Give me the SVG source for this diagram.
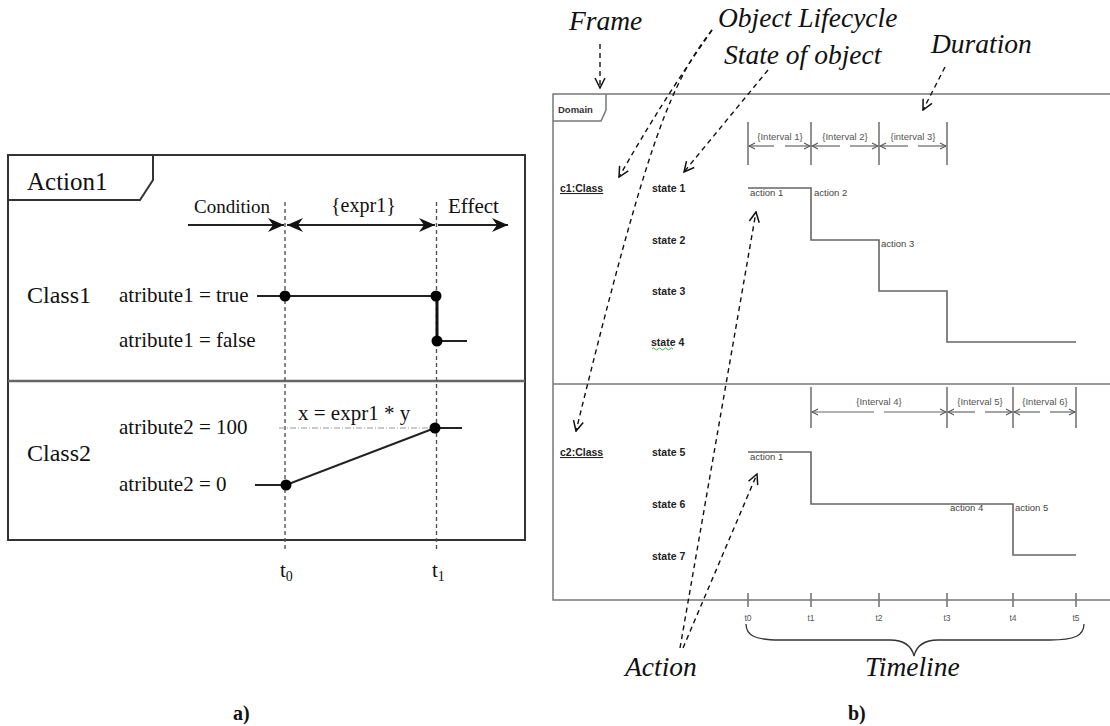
<svg xmlns="http://www.w3.org/2000/svg" width="1110" height="726" viewBox="0 0 1110 726">
  <style>
    .serif { font-family: "Liberation Serif", "Times New Roman", serif; fill: #111; }
    .lbl { font-family: "Liberation Serif", "Times New Roman", serif; fill: #111; font-style: italic; font-size: 27.5px; }
    .sans { font-family: "Liberation Sans", Arial, sans-serif; }
    .state { font-family: "Liberation Sans", Arial, sans-serif; font-size: 10.5px; font-weight: bold; fill: #222; }
    .act { font-family: "Liberation Sans", Arial, sans-serif; font-size: 9.5px; fill: #444; }
    .ivl { font-family: "Liberation Sans", Arial, sans-serif; font-size: 9.5px; fill: #555; text-anchor: middle; }
    .tick { font-family: "Liberation Sans", Arial, sans-serif; font-size: 8.5px; fill: #555; text-anchor: middle; }
    .frameA { fill: none; stroke: #333; stroke-width: 2; }
    .vdash { fill: none; stroke: #555; stroke-width: 1.4; stroke-dasharray: 4 3; }
    .sig { fill: none; stroke: #222; stroke-width: 2; }
    .dot { fill: #000; }
    .frameB { fill: none; stroke: #777; stroke-width: 1.5; }
    .step { fill: none; stroke: #666; stroke-width: 1.6; }
    .bar { fill: none; stroke: #777; stroke-width: 1.6; }
    .ivline { fill: none; stroke: #666; stroke-width: 1.2; }
    .note { fill: none; stroke: #111; stroke-width: 1.4; stroke-dasharray: 5 4; }
  </style>
  <defs>
    <marker id="stealth" viewBox="0 0 16 16" refX="16" refY="8" markerWidth="16" markerHeight="16" markerUnits="userSpaceOnUse" orient="auto-start-reverse">
      <path d="M0,1 L16,8 L0,15 L5,8 z" fill="#111"/>
    </marker>
    <marker id="chev" viewBox="0 0 8 8" refX="7" refY="4" markerWidth="8" markerHeight="8" markerUnits="userSpaceOnUse" orient="auto-start-reverse">
      <path d="M1,1 L7,4 L1,7" fill="none" stroke="#555" stroke-width="1.1"/>
    </marker>
    <marker id="openV" viewBox="0 0 12 12" refX="11" refY="6" markerWidth="12" markerHeight="12" markerUnits="userSpaceOnUse" orient="auto">
      <path d="M1,1 L11,6 L1,11" fill="none" stroke="#111" stroke-width="1.5"/>
    </marker>
  </defs>

  <rect width="1110" height="726" fill="#fff"/>

  <!-- ===== a) timing diagram with value lifelines ===== -->
  <g id="frame-action1">
    <rect class="frameA" x="8" y="155" width="517" height="385"/>
    <path class="frameA" d="M8 200 H140 L153 180 V155"/>
    <text class="serif" x="27" y="190" font-size="25">Action1</text>
    <line x1="8" y1="381" x2="525" y2="381" stroke="#666" stroke-width="2.5"/>
  </g>

  <g id="time-marks-a">
    <line class="vdash" x1="285" y1="202" x2="285" y2="551"/>
    <line class="vdash" x1="436.5" y1="202" x2="436.5" y2="551"/>
    <text class="serif" x="280" y="577" font-size="21">t<tspan font-size="14" dy="4">0</tspan></text>
    <text class="serif" x="432" y="577" font-size="21">t<tspan font-size="14" dy="4">1</tspan></text>
  </g>

  <g id="phases-a">
    <text class="serif" x="194" y="213" font-size="19">Condition</text>
    <text class="serif" x="331" y="212" font-size="20">{expr1}</text>
    <text class="serif" x="448" y="213" font-size="21">Effect</text>
  </g>

  <g id="class1">
    <text class="serif" x="27" y="303" font-size="24">Class1</text>
    <text class="serif" x="119" y="302" font-size="21">atribute1 = true</text>
    <text class="serif" x="119" y="347" font-size="21">atribute1 = false</text>
    <path class="sig" d="M257 296 H437"/>
    <path d="M437 296 V341" stroke="#111" stroke-width="3"/>
    <path class="sig" d="M437 341 H467"/>
    <circle class="dot" cx="285" cy="296" r="5.5"/>
    <circle class="dot" cx="436" cy="296" r="5.5"/>
    <circle class="dot" cx="437" cy="341" r="5.5"/>
  </g>

  <g id="class2">
    <text class="serif" x="27" y="461" font-size="24">Class2</text>
    <text class="serif" x="119" y="434" font-size="21">atribute2 = 100</text>
    <text class="serif" x="119" y="491" font-size="21">atribute2 = 0</text>
    <text class="serif" x="298" y="420" font-size="21">x = expr1 * y</text>
    <line x1="279" y1="428" x2="434" y2="428" stroke="#999" stroke-width="1" stroke-dasharray="6 2 1 2"/>
    <path class="sig" d="M435 428 H462"/>
    <path class="sig" d="M255 485 H286 L435 428"/>
    <circle class="dot" cx="286" cy="485" r="5.5"/>
    <circle class="dot" cx="435" cy="428" r="5.5"/>
  </g>

  <text class="serif" x="233" y="720" font-size="20" font-weight="bold">a)</text>

  <!-- ===== b) timing diagram with state lifelines ===== -->
  <g id="frame-domain">
    <path class="frameB" d="M1112 94 H553 V600 H1112"/>
    <line x1="553" y1="384" x2="1112" y2="384" stroke="#777" stroke-width="1.5"/>
    <path class="frameB" d="M553 121 H601 L606 110 V94"/>
    <text class="sans" x="558" y="113" font-size="9.5" font-weight="bold" fill="#333">Domain</text>
  </g>

  <g id="c1-class">
    <text class="state" x="560" y="192" text-decoration="underline">c1:Class</text>
    <text class="state" x="652" y="192">state 1</text>
    <text class="state" x="652" y="244">state 2</text>
    <text class="state" x="652" y="295">state 3</text>
    <text class="state" x="651" y="346" font-size="12">state 4</text>
    <path d="M652 349 q1.5 -2 3 0 t3 0 t3 0 t3 0 t3 0 t3 0 t3 0" fill="none" stroke="#3a3" stroke-width="0.9"/>
    <path class="step" d="M748 188 H811 V240 H879 V291 H947 V342 H1076"/>
    <text class="act" x="750" y="196">action 1</text>
    <text class="act" x="814" y="196">action 2</text>
    <text class="act" x="881" y="247">action 3</text>
  </g>

  <g id="c1-durations">
    <path class="bar" d="M748 122 V165 M811 122 V165 M879 122 V165 M947 122 V165"/>
    <path class="ivline" d="M749 146 H774" marker-start="url(#chev)"/>
    <path class="ivline" d="M785 146 H810" marker-end="url(#chev)"/>
    <path class="ivline" d="M812 146 H840" marker-start="url(#chev)"/>
    <path class="ivline" d="M850 146 H878" marker-end="url(#chev)"/>
    <path class="ivline" d="M880 146 H908" marker-start="url(#chev)"/>
    <path class="ivline" d="M918 146 H946" marker-end="url(#chev)"/>
    <text class="ivl" x="780" y="140">{Interval 1}</text>
    <text class="ivl" x="845" y="140">{Interval 2}</text>
    <text class="ivl" x="913" y="140">{interval 3}</text>
  </g>

  <g id="c2-class">
    <text class="state" x="560" y="456" text-decoration="underline">c2:Class</text>
    <text class="state" x="652" y="456">state 5</text>
    <text class="state" x="652" y="508">state 6</text>
    <text class="state" x="652" y="560">state 7</text>
    <path class="step" d="M748 452 H811 V504 H1013 V555 H1076"/>
    <text class="act" x="750" y="460">action 1</text>
    <text class="act" x="950" y="511">action 4</text>
    <text class="act" x="1015" y="511">action 5</text>
  </g>

  <g id="c2-durations">
    <path class="bar" d="M811 387 V428 M947 387 V428 M1013 387 V428 M1076 387 V428"/>
    <path class="ivline" d="M812 412 H874" marker-start="url(#chev)"/>
    <path class="ivline" d="M884 412 H946" marker-end="url(#chev)"/>
    <path class="ivline" d="M948 412 H975" marker-start="url(#chev)"/>
    <path class="ivline" d="M985 412 H1012" marker-end="url(#chev)"/>
    <path class="ivline" d="M1014 412 H1040" marker-start="url(#chev)"/>
    <path class="ivline" d="M1050 412 H1075" marker-end="url(#chev)"/>
    <text class="ivl" x="879" y="405">{Interval 4}</text>
    <text class="ivl" x="980" y="405">{Interval 5}</text>
    <text class="ivl" x="1045" y="405">{Interval 6}</text>
  </g>

  <g id="time-axis-b">
    <path class="bar" d="M748 593 V607 M811 593 V607 M879 593 V607 M947 593 V607 M1013 593 V607 M1076 593 V607"/>
    <text class="tick" x="748" y="621">t0</text>
    <text class="tick" x="811" y="621">t1</text>
    <text class="tick" x="879" y="621">t2</text>
    <text class="tick" x="947" y="621">t3</text>
    <text class="tick" x="1013" y="621">t4</text>
    <text class="tick" x="1076" y="621">t5</text>
    <path d="M746 624 C746 636 756 640 780 640 H890 C906 640 912 648 914 656 C916 648 922 640 938 640 H1050 C1074 640 1084 636 1084 624" fill="none" stroke="#333" stroke-width="1.3"/>
  </g>

  <g id="callouts">
    <text class="lbl" x="569" y="30">Frame</text>
    <text class="lbl" x="718" y="27">Object Lifecycle</text>
    <text class="lbl" x="724" y="64">State of object</text>
    <text class="lbl" x="931" y="53">Duration</text>
    <text class="lbl" x="625" y="676">Action</text>
    <text class="lbl" x="865" y="676">Timeline</text>
  </g>

  <g id="connectors">
    <!-- a) phase arrows -->
    <path class="sig" d="M188 225 H284" marker-end="url(#stealth)"/>
    <path class="sig" d="M287 225 H435" marker-start="url(#stealth)" marker-end="url(#stealth)"/>
    <path class="sig" d="M438 225 H508" marker-end="url(#stealth)"/>
    <!-- b) callout arrows -->
    <path class="note" d="M600 44 V88" marker-end="url(#openV)"/>
    <path class="note" d="M712 30 C690 62 660 105 619 177" marker-end="url(#openV)"/>
    <path class="note" d="M712 30 C672 82 650 130 576 431" marker-end="url(#openV)"/>
    <path class="note" d="M768 70 L684 172" marker-end="url(#openV)"/>
    <path class="note" d="M945 67 L923 110" marker-end="url(#openV)"/>
    <path class="note" d="M680 648 L756 212" marker-end="url(#openV)"/>
    <path class="note" d="M683 648 L757 474" marker-end="url(#openV)"/>
  </g>

  <text class="serif" x="848" y="720" font-size="20" font-weight="bold">b)</text>
</svg>
